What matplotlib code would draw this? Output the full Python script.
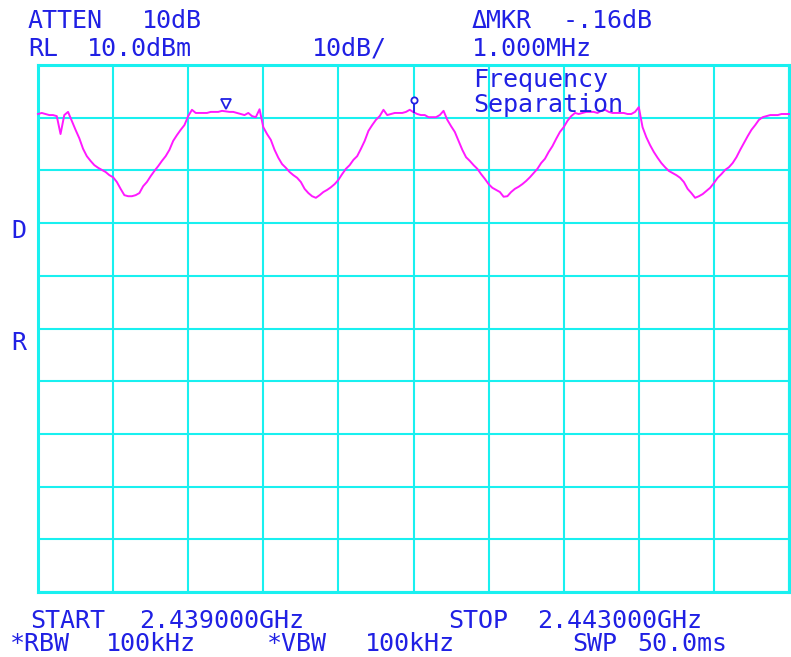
import numpy as np
import matplotlib.pyplot as plt
import matplotlib.transforms as mtransforms

# sweep settings
start_mhz = 2439.0
stop_mhz = 2443.0
ref_level = 10.0      # dBm, top graticule
db_per_div = 10.0

# trace levels in dBm, one value per sweep point (0.02 MHz apart)
level = [
    0.7, 0.9, 0.7, 0.5, 0.5, 0.3, -3.1, 0.5, 1.1, -0.6,
    -2.3, -3.9, -5.9, -7.3, -8.2, -9.0, -9.5, -9.9, -10.3, -10.9,
    -11.3, -12.2, -13.5, -14.7, -14.9, -14.9, -14.7, -14.3, -13.0, -12.2,
    -11.1, -10.1, -9.2, -8.2, -7.3, -6.1, -4.4, -3.3, -2.3, -1.4,
    0.3, 1.5, 0.9, 0.9, 0.9, 0.9, 1.1, 1.1, 1.1, 1.3,
    1.2, 1.1, 1.1, 0.9, 0.7, 0.5, 0.9, 0.3, 0.1, 1.6,
    -1.8, -3.1, -4.2, -6.1, -7.6, -8.8, -9.5, -10.3, -10.9, -11.4,
    -12.2, -13.5, -14.3, -14.9, -15.2, -14.7, -14.1, -13.7, -13.2, -12.6,
    -11.8, -10.7, -9.7, -9.0, -8.0, -7.3, -5.9, -4.4, -2.5, -1.4,
    -0.4, 0.3, 1.5, 0.5, 0.7, 0.9, 0.9, 0.9, 1.1, 1.5,
    1.04, 0.7, 0.5, 0.5, 0.1, 0.1, 0.1, 0.5, 1.3, -0.4,
    -1.6, -2.7, -4.4, -6.1, -7.5, -8.2, -9.0, -9.7, -10.7, -11.6,
    -12.6, -13.3, -13.7, -14.1, -15.0, -14.9, -14.1, -13.5, -13.1, -12.6,
    -12.0, -11.3, -10.5, -9.7, -8.6, -7.8, -6.5, -5.4, -4.0, -2.7,
    -1.8, -0.6, 0.3, 0.9, 0.7, 0.9, 1.1, 1.1, 1.1, 0.9,
    1.3, 1.5, 1.1, 0.9, 0.9, 0.9, 0.9, 0.7, 0.7, 1.1,
    2.0, -1.8, -3.7, -5.2, -6.5, -7.6, -8.6, -9.4, -10.1, -10.5,
    -10.9, -11.4, -12.2, -13.5, -14.3, -15.2, -14.9, -14.5, -13.9, -13.3,
    -12.4, -11.4, -10.7, -9.9, -9.4, -8.6, -7.5, -6.1, -4.8, -3.5,
    -2.3, -1.4, -0.4, 0.1, 0.3, 0.5, 0.5, 0.5, 0.7, 0.7,
    0.7,
]

# markers
mkr_freq = 2440.0
mkr_level = 1.2
delta_mkr_offset_mhz = 1.000
delta_mkr_db = -0.16

freq = np.linspace(start_mhz, stop_mhz, len(level))

W, H = 791, 657
fig = plt.figure(figsize=(W / 100, H / 100), dpi=100)
fig.patch.set_facecolor('white')

# graticule box in pixels: x 38..789, y 65..592
ax = fig.add_axes([38 / W, (H - 592) / H, 751 / W, 527 / H])
ax.set_xlim(start_mhz, stop_mhz)
ax.set_ylim(ref_level - 10 * db_per_div, ref_level)
ax.set_xticks(np.linspace(start_mhz, stop_mhz, 11))
ax.set_yticks(np.arange(ref_level - 10 * db_per_div, ref_level + 1, db_per_div))
ax.tick_params(length=0, labelbottom=False, labelleft=False)
ax.grid(True, color='#19f0f0', lw=1.5)
for sp in ax.spines.values():
    sp.set_color('#19f0f0')
    sp.set_linewidth(2.2)

ax.plot(freq, level, color='#ff19ff', lw=1.4, zorder=3, clip_on=False)

blue = '#2020e4'

# reference marker: hollow triangle sitting on the trace
tri_tr = mtransforms.offset_copy(ax.transData, fig=fig, x=0, y=5.5, units='points')
ax.plot([mkr_freq], [mkr_level], marker='v', ms=7.5, mfc='white', mec=blue,
        mew=1.3, transform=tri_tr, zorder=5, clip_on=False)

# delta marker: small circle on a stem
d_freq = mkr_freq + delta_mkr_offset_mhz
d_level = mkr_level + delta_mkr_db
circ_tr = mtransforms.offset_copy(ax.transData, fig=fig, x=0, y=8.5, units='points')
stem_tr = mtransforms.offset_copy(ax.transData, fig=fig, x=0, y=3, units='points')
ax.plot([d_freq], [d_level], marker='|', ms=7, mec=blue, mew=1.3,
        transform=stem_tr, zorder=5, clip_on=False)
ax.plot([d_freq], [d_level], marker='o', ms=4.5, mfc='white', mec=blue,
        mew=1.3, transform=circ_tr, zorder=6, clip_on=False)


def label(x, y, s):
    fig.text(x / W, 1 - y / H, s, color=blue, family='DejaVu Sans Mono',
             fontsize=18, ha='left', va='baseline')


# header annotations
label(28, 28, 'ATTEN')
label(142, 28, '10dB')
label(28, 56, 'RL')
label(87, 56, '10.0dBm')
label(312, 56, '10dB/')
label(472, 28, '\u0394MKR')
label(563, 28, '-.16dB')
label(472, 56, '1.000MHz')
label(473, 87, 'Frequency')
label(473, 112, 'Separation')

# side letters
label(11, 238, 'D')
label(11, 350, 'R')

# footer annotations
label(30, 628, 'START')
label(139, 628, '2.439000GHz')
label(448, 628, 'STOP')
label(537, 628, '2.443000GHz')
label(10, 651, '*RBW')
label(106, 651, '100kHz')
label(267, 651, '*VBW')
label(365, 651, '100kHz')
label(572, 651, 'SWP')
label(637, 651, '50.0ms')

fig.savefig('out.png', dpi=100)
